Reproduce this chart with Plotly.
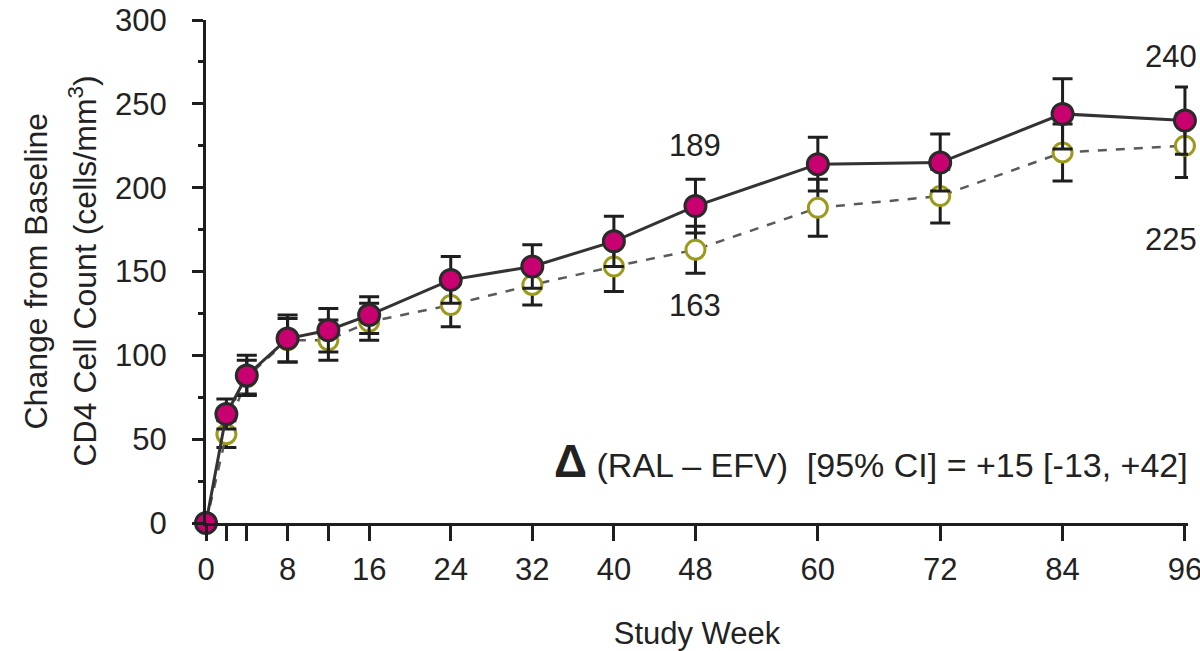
import plotly.graph_objects as go

weeks = [0, 2, 4, 8, 12, 16, 24, 32, 40, 48, 60, 72, 84, 96]
ral_mean = [0, 65, 88, 110, 115, 124, 145, 153, 168, 189, 214, 215, 244, 240]
ral_err = [0, 9, 12, 14, 13, 11, 14, 13, 15, 16, 16, 17, 21, 20]
efv_mean = [0, 53, 87, 109, 109, 120, 130, 142, 153, 163, 188, 195, 221, 225]
efv_err = [0, 8, 10, 13, 12, 11, 13, 12, 15, 14, 17, 16, 17, 19]

x_tickvals = [0, 2, 4, 8, 12, 16, 24, 32, 40, 48, 60, 72, 84, 96]
x_ticktext = ["0", "", "", "8", "", "16", "24", "32", "40", "48", "60", "72", "84", "96"]
y_tickvals = [0, 50, 100, 150, 200, 250, 300]

FONT = "Liberation Sans, Arial, sans-serif"
TXT = "#222222"

W, H = 1200, 651
L, R, T, B = 206, 12, 20, 128
PW = W - L - R

fig = go.Figure()

fig.add_trace(go.Scatter(
    x=weeks, y=efv_mean, mode="lines+markers", name="EFV",
    line=dict(color="#5a5a5a", width=2.5, dash="dash"),
    marker=dict(symbol="circle", size=19, color="white",
                line=dict(color="#9C9A1C", width=3)),
    error_y=dict(type="data", array=efv_err, visible=True,
                 color="#1e1e1e", thickness=3, width=10),
    cliponaxis=False,
))
fig.add_trace(go.Scatter(
    x=weeks, y=ral_mean, mode="lines+markers", name="RAL",
    line=dict(color="#333333", width=3),
    marker=dict(symbol="circle", size=21, color="#C9006F",
                line=dict(color="#2a2a2a", width=3)),
    error_y=dict(type="data", array=ral_err, visible=True,
                 color="#1e1e1e", thickness=3, width=10),
    cliponaxis=False,
))

annots = [
    dict(x=48, y=225, text="189"),
    dict(x=48, y=130, text="163"),
    dict(x=94.6, y=278, text="240"),
    dict(x=94.6, y=169, text="225"),
]
ann = []
for a in annots:
    ann.append(dict(x=a["x"], y=a["y"], xref="x", yref="y", text=a["text"],
                    showarrow=False, font=dict(family=FONT, size=31, color=TXT),
                    xanchor="center", yanchor="middle"))

ann.append(dict(
    x=(1190 - L) / PW, y=37, xref="paper", yref="y", xanchor="right", yanchor="middle",
    text="<b><span style='font-size:46px'>Δ</span></b> (RAL – EFV)  [95% CI] = +15 [-13, +42]",
    showarrow=False, font=dict(family=FONT, size=34, color=TXT)))

ann.append(dict(
    x=(35 - L) / PW, y=0.5, xref="paper", yref="paper", xanchor="center", yanchor="middle",
    textangle=-90, showarrow=False, text="Change from Baseline",
    font=dict(family=FONT, size=32, color=TXT)))
ann.append(dict(
    x=(82 - L) / PW, y=0.5, xref="paper", yref="paper", xanchor="center", yanchor="middle",
    textangle=-90, showarrow=False, text="CD4 Cell Count (cells/mm<sup>3</sup>)",
    font=dict(family=FONT, size=32, color=TXT)))

fig.update_layout(
    width=W, height=H,
    margin=dict(l=L, r=R, t=T, b=B, autoexpand=False),
    paper_bgcolor="white", plot_bgcolor="white",
    showlegend=False,
    annotations=ann,
    font=dict(family=FONT, size=31, color=TXT),
    xaxis=dict(
        range=[0, 96.3], tickvals=x_tickvals, ticktext=x_ticktext,
        ticks="outside", ticklen=15, tickwidth=2.5, tickcolor="#1e1e1e",
        showline=True, linecolor="#1e1e1e", linewidth=3,
        showgrid=False, zeroline=False, automargin=False,
        tickfont=dict(family=FONT, size=31, color=TXT),
        ticklabelstandoff=2, ticklabeloverflow="allow",
        title=dict(text="Study Week", font=dict(family=FONT, size=31, color=TXT), standoff=55),
    ),
    yaxis=dict(
        range=[0, 300], tickvals=y_tickvals,
        ticks="outside", ticklen=11, tickwidth=2.5, tickcolor="#1e1e1e",
        minor=dict(dtick=25, tick0=25, ticks="outside", ticklen=5, tickwidth=2.5, tickcolor="#1e1e1e"),
        showline=True, linecolor="#1e1e1e", linewidth=3,
        showgrid=False, zeroline=False, automargin=False,
        tickfont=dict(family=FONT, size=31, color=TXT),
        ticklabelstandoff=19, ticklabeloverflow="allow",
    ),
)

fig.write_html(
    "out.html",
    config={"displayModeBar": False},
    post_script="document.body.style.margin='0';document.body.style.padding='0';"
                "document.body.style.overflow='hidden';"
                "document.documentElement.style.overflow='hidden';",
)
